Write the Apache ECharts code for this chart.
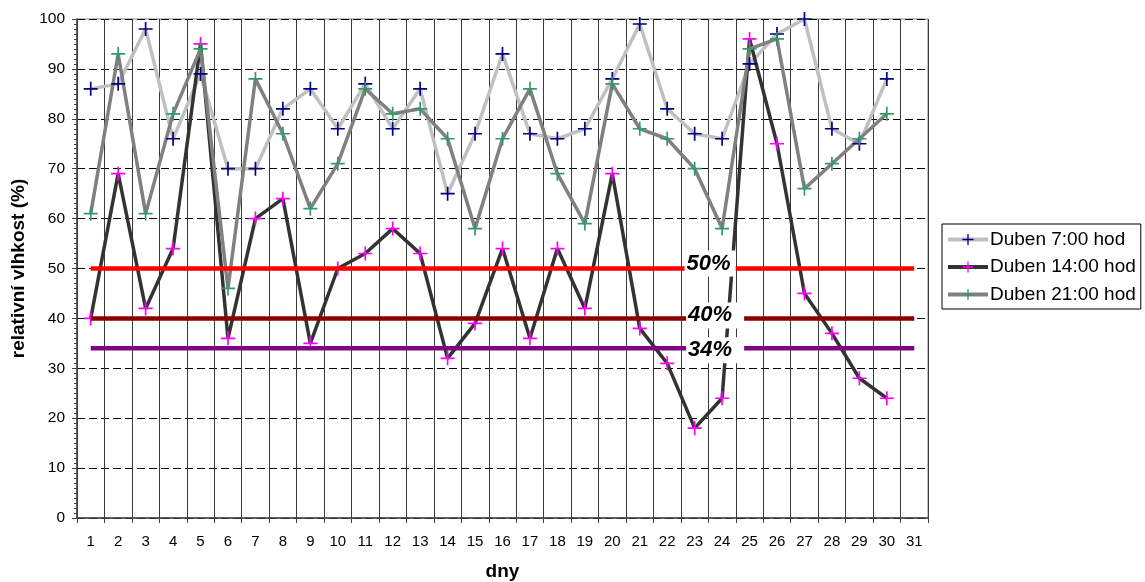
<!DOCTYPE html>
<html>
<head>
<meta charset="utf-8">
<title>Relativní vlhkost – duben</title>
<script src="https://cdn.jsdelivr.net/npm/echarts@6/dist/echarts.min.js"></script>
<style>
  html, body { margin: 0; padding: 0; background: #fff; }
  #chart { width: 1145px; height: 582px; }
</style>
</head>
<body>
<div id="chart"></div>
<script>
// Days of the month (category axis)
const days = ['1','2','3','4','5','6','7','8','9','10','11','12','13','14','15','16',
              '17','18','19','20','21','22','23','24','25','26','27','28','29','30','31'];

// Relative humidity (%) measured at 7:00, 14:00 and 21:00
const humidity7  = [86, 87, 98, 76, 89, 70, 70, 82, 86, 78, 87, 78, 86, 65, 77,
                    93, 77, 76, 78, 88, 99, 82, 77, 76, 91, 97, 100, 78, 75, 88];
const humidity14 = [40, 69, 42, 54, 95, 36, 60, 64, 35, 50, 53, 58, 53, 32, 39,
                    54, 36, 54, 42, 69, 38, 31, 18, 24, 96, 75, 45, 37, 28, 24];
const humidity21 = [61, 93, 61, 81, 94, 46, 88, 77, 62, 71, 86, 81, 82, 76, 58,
                    76, 86, 69, 59, 87, 78, 76, 70, 58, 94, 96, 66, 71, 76, 81];

const seriesNames = ['Duben 7:00 hod', 'Duben 14:00 hod', 'Duben 21:00 hod'];

// Horizontal threshold levels and their captions
const thresholdValues = [50, 40, 34];
const thresholdLabels = ['50%', '40%', '34%'];
const thresholdLabelDay = '24';

// ---- styling ----
const plusSymbol = 'path://M0,8.8H20V11.2H0Z M8.8,0H11.2V20H8.8Z';
const seriesStyles = [
  { line: '#C0C0C0', marker: '#000080' },
  { line: '#333333', marker: '#FF00FF' },
  { line: '#808080', marker: '#339966' }
];
const thresholdStyles = [
  { color: '#FF0000', offset: [-12, -5], padding: [1, 5, 1, 2] },
  { color: '#8B0000', offset: [-7, -3],  padding: [1, 12, 1, 2] },
  { color: '#800080', offset: [-7, 2],   padding: [1, 12, 1, 2] }
];
const FONT = 'Liberation Sans, Arial, sans-serif';

const dataSeries = [humidity7, humidity14, humidity21].map((values, i) => ({
  name: seriesNames[i],
  type: 'line',
  data: values,
  symbol: plusSymbol,
  symbolSize: 14,
  showAllSymbol: true,
  z: 2,
  lineStyle: { color: seriesStyles[i].line, width: 3.5 },
  itemStyle: { color: seriesStyles[i].marker },
  emphasis: { disabled: true }
}));

const thresholdSeries = thresholdValues.map((v, i) => ({
  name: 'threshold-' + thresholdLabels[i],
  type: 'line',
  data: [[days[0], v], [days[days.length - 1], v]],
  symbol: 'none',
  silent: true,
  z: 3,
  lineStyle: { color: thresholdStyles[i].color, width: 4.5 },
  markPoint: {
    symbol: 'rect',
    symbolSize: 0,
    silent: true,
    data: [{ coord: [thresholdLabelDay, v] }],
    label: {
      show: true,
      formatter: thresholdLabels[i],
      color: '#000',
      fontFamily: FONT,
      fontSize: 22,
      fontWeight: 'bold',
      fontStyle: 'italic',
      backgroundColor: '#fff',
      padding: thresholdStyles[i].padding,
      lineHeight: 24,
      offset: thresholdStyles[i].offset
    }
  }
}));

const chart = echarts.init(document.getElementById('chart'));
chart.setOption({
  animation: false,
  backgroundColor: '#fff',
  textStyle: { fontFamily: FONT },
  grid: {
    left: 77, right: 217, top: 19, bottom: 64,
    outerBoundsMode: 'none',
    containLabel: false,
    show: true, borderColor: '#808080', borderWidth: 1, backgroundColor: '#fff'
  },
  legend: {
    data: seriesNames,
    orient: 'vertical',
    left: 942, top: 224,
    itemWidth: 40, itemHeight: 14, itemGap: 8.5,
    padding: [6, 5, 5, 4],
    borderColor: '#000', borderWidth: 1,
    backgroundColor: '#fff',
    lineStyle: { width: 4 },
    textStyle: { fontSize: 19, color: '#000', fontFamily: FONT, padding: [0, 0, 0, -3] },
    selectedMode: false
  },
  xAxis: {
    type: 'category',
    data: days,
    boundaryGap: true,
    name: 'dny',
    nameLocation: 'middle',
    nameGap: 44,
    nameTextStyle: { fontSize: 19, fontWeight: 'bold', color: '#000', fontFamily: FONT },
    axisLine: { lineStyle: { color: '#404040', width: 1.5 } },
    axisTick: { show: true, alignWithLabel: false, interval: 0, length: 5, lineStyle: { color: '#404040' } },
    axisLabel: { interval: 0, fontSize: 15, color: '#000', margin: 16, fontFamily: FONT },
    splitLine: { show: true, interval: 0, lineStyle: { color: '#3a3a3a', width: 1 } }
  },
  yAxis: {
    type: 'value',
    min: 0, max: 100, interval: 10,
    name: 'relativní vlhkost (%)',
    nameLocation: 'middle',
    nameGap: 48,
    nameTextStyle: { fontSize: 19, fontWeight: 'bold', color: '#000', fontFamily: FONT },
    axisLine: { show: true, lineStyle: { color: '#404040', width: 1.5 } },
    axisTick: { show: true, length: 5, lineStyle: { color: '#404040' } },
    minorTick: { show: true, splitNumber: 10, length: 3, lineStyle: { color: '#404040' } },
    axisLabel: { fontSize: 15.5, color: '#000', margin: 12, fontFamily: FONT },
    splitLine: { show: true, lineStyle: { color: '#000', width: 1, type: [8, 4] } }
  },
  series: dataSeries.concat(thresholdSeries)
});
</script>
</body>
</html>
